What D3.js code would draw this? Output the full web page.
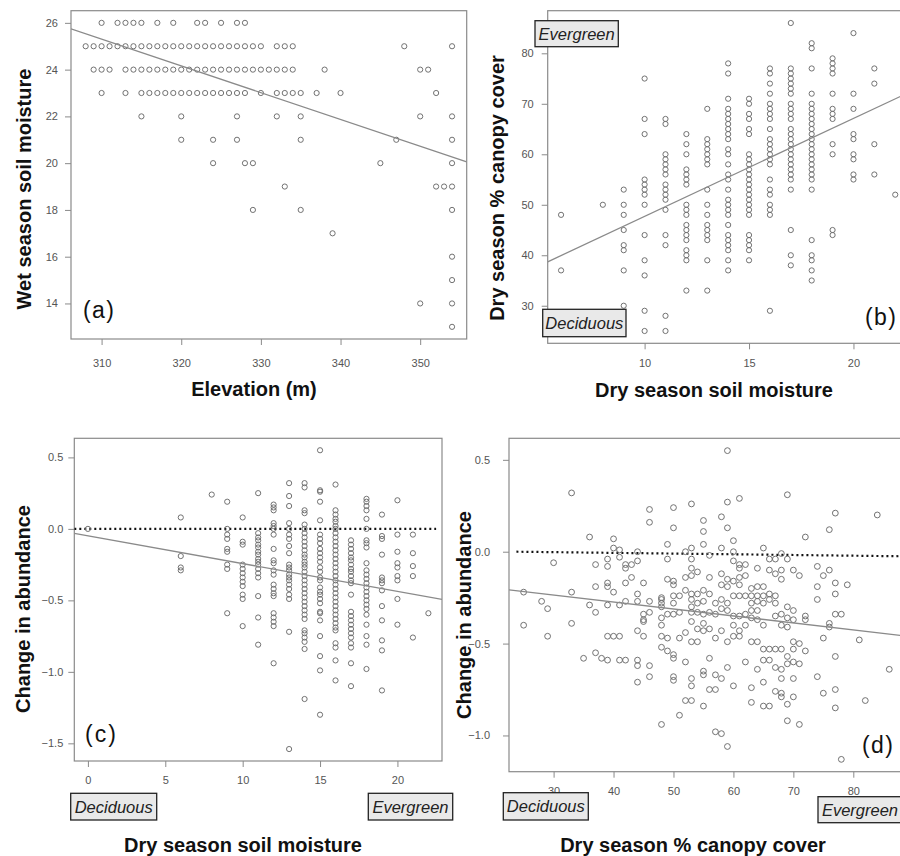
<!DOCTYPE html>
<html>
<head>
<meta charset="utf-8">
<script src="https://cdn.jsdelivr.net/npm/d3@7"></script>
<style>
  body { margin: 0; background: #fff; }
  svg text { font-family: "Liberation Sans", Arial, sans-serif; }
</style>
</head>
<body>
<svg id="fig" width="900" height="856"></svg>
<script>
// ---- data ----

// (a) wet season soil moisture rows, elevations in each row
var aMoisture = [26, 25, 24, 23, 22, 21, 20, 19, 18, 17, 16, 15, 14, 13];
var aElevation = [
  [310, 312, 313, 314, 315, 317, 319, 322, 323, 325, 327, 328],
  [308, 309, 310, 311, 312, 313, 314, 315, 316, 317, 318, 319, 320, 321, 322, 323, 324, 325, 326, 327, 328, 329, 330, 332, 333, 334, 348, 354],
  [309, 310, 311, 313, 314, 315, 316, 317, 318, 319, 320, 321, 322, 323, 324, 325, 326, 327, 328, 329, 330, 331, 332, 333, 334, 338, 350, 351],
  [310, 313, 315, 316, 317, 318, 319, 320, 321, 322, 323, 324, 325, 326, 327, 328, 330, 332, 333, 334, 335, 337, 340, 352],
  [315, 320, 327, 332, 335, 350, 354],
  [320, 324, 327, 335, 347, 354],
  [324, 328, 329, 345, 354],
  [333, 352, 353, 354],
  [329, 335, 354],
  [339],
  [354],
  [354],
  [350, 354],
  [354]
];

// (b) dry season soil moisture columns, canopy cover in each column
var bMoisture = [6, 8, 9, 10, 11, 12, 13, 14, 15, 16, 17, 18, 19, 20, 21, 22];
var bCanopy = [
  [48, 37],
  [50],
  [53, 50, 48, 45, 42, 41, 37, 30],
  [75, 67, 64, 55, 54, 53, 52, 50, 44, 39, 36, 29, 25],
  [67, 66, 60, 59, 58, 57, 56, 54, 53, 52, 51, 49, 44, 42, 28, 25],
  [64, 62, 60, 57, 56, 55, 54, 50, 49, 48, 46, 45, 44, 43, 41, 40, 39, 33],
  [69, 63, 62, 61, 60, 59, 58, 53, 50, 48, 46, 45, 44, 43, 39, 33],
  [78, 76, 71, 69, 68, 67, 66, 65, 64, 63, 61, 60, 58, 56, 55, 53, 51, 50, 49, 48, 46, 44, 43, 42, 41, 39, 37],
  [71, 70, 68, 67, 65, 64, 60, 59, 58, 57, 56, 55, 54, 53, 52, 51, 50, 49, 48, 44, 43, 42, 41, 39],
  [77, 76, 74, 72, 70, 69, 68, 67, 65, 63, 62, 61, 60, 59, 58, 55, 53, 52, 50, 49, 48, 29],
  [86, 77, 76, 75, 74, 73, 72, 70, 69, 68, 67, 65, 64, 63, 62, 61, 60, 59, 58, 57, 56, 55, 53, 45, 40, 38],
  [82, 81, 77, 72, 70, 69, 68, 67, 66, 65, 64, 63, 62, 61, 60, 59, 58, 57, 56, 55, 53, 43, 40, 39, 37, 35],
  [79, 78, 77, 76, 72, 69, 68, 67, 62, 60, 45, 44],
  [84, 72, 69, 64, 63, 60, 59, 56, 55],
  [77, 74, 62, 56],
  [52]
];

// (c) dry season soil moisture columns, change in abundance in each column
var cMoisture = [0, 6, 8, 9, 10, 11, 12, 13, 14, 15, 16, 17, 18, 19, 20, 21, 22];
var cChange = [
  [0.0],
  [0.08, -0.19, -0.27, -0.29],
  [0.24],
  [0.19, 0.0, -0.04, -0.07, -0.14, -0.16, -0.25, -0.28, -0.59],
  [0.08, -0.09, -0.11, -0.25, -0.28, -0.31, -0.34, -0.37, -0.40, -0.46, -0.49, -0.68],
  [0.25, -0.03, -0.06, -0.08, -0.11, -0.13, -0.16, -0.18, -0.21, -0.23, -0.25, -0.28, -0.31, -0.34, -0.47, -0.62, -0.81],
  [0.17, 0.15, 0.13, 0.04, 0.02, 0.0, -0.04, -0.14, -0.22, -0.24, -0.29, -0.32, -0.39, -0.42, -0.45, -0.47, -0.59, -0.62, -0.65, -0.68, -0.94],
  [0.32, 0.23, 0.16, 0.04, 0.0, -0.04, -0.07, -0.12, -0.17, -0.25, -0.27, -0.29, -0.32, -0.34, -0.36, -0.39, -0.42, -0.46, -0.49, -0.72, -1.54],
  [0.32, 0.29, 0.13, 0.11, 0.03, 0.0, -0.03, -0.06, -0.09, -0.12, -0.15, -0.18, -0.2, -0.23, -0.25, -0.27, -0.3, -0.33, -0.36, -0.39, -0.42, -0.45, -0.48, -0.51, -0.54, -0.57, -0.6, -0.63, -0.71, -0.73, -0.76, -0.79, -0.84, -1.19],
  [0.55, 0.27, 0.26, 0.19, 0.06, -0.04, -0.07, -0.1, -0.14, -0.17, -0.2, -0.23, -0.27, -0.3, -0.34, -0.36, -0.41, -0.44, -0.46, -0.49, -0.52, -0.58, -0.59, -0.64, -0.75, -0.89, -0.99, -1.3],
  [0.31, 0.13, 0.1, 0.07, 0.05, 0.02, 0.0, -0.03, -0.06, -0.09, -0.12, -0.15, -0.18, -0.21, -0.24, -0.27, -0.3, -0.33, -0.36, -0.39, -0.42, -0.45, -0.48, -0.51, -0.54, -0.57, -0.6, -0.63, -0.66, -0.69, -0.71, -0.8, -0.83, -0.92, -1.06],
  [-0.08, -0.11, -0.14, -0.17, -0.2, -0.22, -0.25, -0.28, -0.3, -0.33, -0.36, -0.38, -0.46, -0.58, -0.61, -0.64, -0.67, -0.7, -0.73, -0.76, -0.8, -0.83, -0.94, -1.1],
  [0.21, 0.19, 0.16, 0.13, 0.07, 0.0, -0.08, -0.1, -0.13, -0.24, -0.29, -0.32, -0.35, -0.38, -0.41, -0.44, -0.47, -0.5, -0.53, -0.56, -0.6, -0.67, -0.75, -0.81, -0.98],
  [0.1, -0.05, -0.07, -0.18, -0.34, -0.36, -0.38, -0.43, -0.54, -0.64, -0.78, -0.85, -1.13],
  [0.2, -0.04, -0.16, -0.24, -0.27, -0.33, -0.36, -0.49, -0.67],
  [-0.04, -0.17, -0.26, -0.33, -0.76],
  [-0.59]
];

// (d) [canopy cover, change in abundance]
var dPoints = [
  [33,0.32],[30,-0.06],[25,-0.22],[25,-0.40],[28,-0.27],[29,-0.31],[29,-0.46],[33,-0.22],[33,-0.39],[36,0.08],
  [36,-0.29],[37,-0.07],[37,-0.19],[37,-0.33],[35,-0.58],[37,-0.55],[38,-0.58],[39,-0.59],[40,0.07],[40,0.02],
  [41,0.01],[41,-0.03],[39,-0.04],[39,-0.08],[39,-0.17],[39,-0.19],[40,-0.22],[39,-0.29],[41,-0.29],[39,-0.46],
  [40,-0.46],[41,-0.46],[41,-0.59],[42,-0.59],[42,-0.07],[42,-0.09],[43,-0.07],[42,-0.17],[43,-0.14],[42,-0.27],
  [44,0.0],[44,-0.05],[44,-0.23],[44,-0.27],[44,-0.43],[44,-0.59],[44,-0.62],[44,-0.71],
  [59,0.55],[46,0.23],[46,0.16],[50,0.24],[53,0.26],[50,0.13],[55,0.17],[55,0.11],[58,0.19],[59,0.27],
  [61,0.29],[59,0.13],[60,0.06],[49,0.04],[55,0.04],[52,0.0],[53,0.02],[58,0.02],[60,0.0],[65,0.02],
  [49,-0.04],[53,-0.04],[53,-0.09],[54,-0.11],[53,-0.13],[56,-0.02],[60,-0.05],[61,-0.07],[62,-0.07],[61,-0.09],
  [64,-0.09],[49,-0.15],[50,-0.16],[50,-0.18],[52,-0.14],[45,-0.17],[56,-0.14],[58,-0.12],[59,-0.15],[60,-0.16],
  [61,-0.14],[62,-0.13],[58,-0.18],[59,-0.19],[61,-0.18],[63,-0.2],[64,-0.19],[65,-0.19],
  [52,-0.21],[53,-0.23],[54,-0.23],[55,-0.21],[56,-0.23],[46,-0.27],[48,-0.25],[48,-0.26],[48,-0.28],[48,-0.3],
  [50,-0.24],[51,-0.24],[50,-0.28],[53,-0.26],[54,-0.28],[55,-0.27],[53,-0.3],[57,-0.28],[58,-0.26],[59,-0.28],
  [58,-0.31],[59,-0.32],[60,-0.24],[61,-0.24],[62,-0.24],[63,-0.24],[64,-0.24],[65,-0.24],[63,-0.28],[64,-0.27],
  [65,-0.28],[63,-0.32],[64,-0.32],
  [45,-0.34],[46,-0.33],[45,-0.37],[45,-0.38],[48,-0.36],[49,-0.34],[50,-0.34],[51,-0.33],[53,-0.33],[54,-0.33],
  [55,-0.34],[56,-0.33],[57,-0.34],[60,-0.35],[61,-0.35],[62,-0.34],[63,-0.36],[64,-0.37],
  [45,-0.46],[48,-0.4],[48,-0.46],[49,-0.47],[51,-0.47],[52,-0.44],[53,-0.38],[54,-0.42],[55,-0.39],[55,-0.43],
  [54,-0.49],[53,-0.49],[56,-0.42],[57,-0.47],[58,-0.43],[59,-0.49],[60,-0.4],[61,-0.43],[62,-0.4],[63,-0.49],
  [64,-0.49],[60,-0.46],[61,-0.46],[65,-0.4],[65,-0.53],
  [48,-0.52],[49,-0.54],[50,-0.56],[50,-0.58],[46,-0.62],[52,-0.6],[56,-0.58],[59,-0.63],[62,-0.6],[64,-0.64],
  [65,-0.59],[46,-0.68],[50,-0.68],[50,-0.7],[53,-0.69],[53,-0.73],[55,-0.65],[55,-0.67],[57,-0.67],[58,-0.69],
  [60,-0.73],[63,-0.74],[65,-0.71],[56,-0.75],[57,-0.75],[52,-0.81],[53,-0.81],[55,-0.84],[63,-0.82],[65,-0.84],
  [51,-0.89],[48,-0.94],[57,-0.98],[58,-0.99],[59,-1.06],
  [69,0.31],[77,0.21],[84,0.2],[76,0.12],[72,0.08],[68,-0.01],[69,-0.04],[66,-0.04],[67,-0.04],[66,-0.1],
  [67,-0.12],[68,-0.1],[68,-0.15],[70,-0.1],[71,-0.13],[74,-0.08],[76,-0.1],[75,-0.13],[74,-0.19],[77,-0.17],
  [79,-0.18],[66,-0.23],[67,-0.24],[66,-0.26],[67,-0.28],[74,-0.26],[77,-0.23],[69,-0.3],[70,-0.32],[67,-0.35],
  [68,-0.34],[69,-0.36],[68,-0.4],[69,-0.41],[70,-0.37],[72,-0.35],[72,-0.37],[76,-0.39],[76,-0.41],[77,-0.34],
  [78,-0.34],[75,-0.47],[81,-0.48],[66,-0.53],[67,-0.53],[68,-0.53],[70,-0.49],[71,-0.5],[70,-0.53],[72,-0.54],
  [77,-0.57],[69,-0.57],[70,-0.6],[71,-0.61],[69,-0.61],[68,-0.64],[67,-0.63],[68,-0.69],[70,-0.69],[74,-0.68],
  [86,-0.64],[66,-0.59],[67,-0.76],[68,-0.77],[68,-0.79],[69,-0.83],[70,-0.79],[75,-0.77],[77,-0.75],[82,-0.81],
  [66,-0.84],[77,-0.85],[69,-0.92],[71,-0.94],[78,-1.13]
];

// fitted lines [intercept, slope]
var lmA = [60.8, -0.1145];
var lmB = [28.3, 1.94];
var lmC = [-0.049, -0.0194];
var lmD = [-0.1215, -0.0038];

// zero reference lines (dotted)
var zeroC = [[-0.88, 0], [22.5, 0]];
var zeroD = [[23.8, 0], [88.4, -0.025]];

// tick values
var aXTicks = [310, 320, 330, 340, 350];
var aYTicks = [14, 16, 18, 20, 22, 24, 26];
var bXTicks = [10, 15, 20];
var bYTicks = [30, 40, 50, 60, 70, 80];
var cXTicks = [0, 5, 10, 15, 20];
var cYTicks = [-1.5, -1.0, -0.5, 0.0, 0.5];
var dXTicks = [30, 40, 50, 60, 70, 80];
var dYTicks = [-1.0, -0.5, 0.0, 0.5];

// ---- build point lists ----
function fromRows(keys, lists, keyIsY) {
  var out = [];
  keys.forEach(function(k, i) {
    lists[i].forEach(function(v) { out.push(keyIsY ? [v, k] : [k, v]); });
  });
  return out;
}

var panels = [
  { id: 'a', pts: fromRows(aMoisture, aElevation, true), l: 71, r: 466.7, t: 10.7, b: 339,
    xt: aXTicks, yt: aYTicks, xf: d3.format('d'), yf: d3.format('d'), xpad: 14, ypad: 7, rad: 2.6,
    lm: lmA, xlab: 'Elevation (m)', xlabX: 254, xlabY: 396,
    ylab: 'Wet season soil moisture', ylabX: 24, ylabY: 189,
    tag: '(a)', tagX: 83, tagY: 318 },
  { id: 'b', pts: fromRows(bMoisture, bCanopy, false), l: 547.7, r: 908.6, t: 10.7, b: 343.3,
    xt: bXTicks, yt: bYTicks, xf: d3.format('d'), yf: d3.format('d'), xpad: 10, ypad: 8, rad: 2.6,
    lm: lmB, xlab: 'Dry season soil moisture', xlabX: 714, xlabY: 397,
    ylab: 'Dry season % canopy cover', ylabX: 497, ylabY: 188,
    tag: '(b)', tagX: 865, tagY: 325 },
  { id: 'c', pts: fromRows(cMoisture, cChange, false), l: 74.3, r: 442, t: 438.3, b: 761,
    xt: cXTicks, yt: cYTicks, xf: d3.format('d'), yf: d3.format('.1f'), xpad: 9, ypad: 5, rad: 2.6,
    lm: lmC, zero: zeroC, xlab: 'Dry season soil moisture', xlabX: 243, xlabY: 852,
    ylab: 'Change in abundance', ylabX: 23, ylabY: 609,
    tag: '(c)', tagX: 85, tagY: 742 },
  { id: 'd', pts: dPoints, l: 509, r: 903.9, t: 438.3, b: 771.7,
    xt: dXTicks, yt: dYTicks, xf: d3.format('d'), yf: d3.format('.1f'), xpad: 10, ypad: 13, rad: 2.9,
    lm: lmD, zero: zeroD, xlab: 'Dry season % canopy cover', xlabX: 693, xlabY: 852,
    ylab: 'Change in abundance', ylabX: 464, ylabY: 615,
    tag: '(d)', tagX: 862, tagY: 753 }
];

// Evergreen / Deciduous boxes
var boxes = [
  { text: 'Evergreen', x: 535, y: 20.7, w: 83.3, h: 26 },
  { text: 'Deciduous', x: 542.7, y: 309.3, w: 83.3, h: 27.4 },
  { text: 'Deciduous', x: 70.7, y: 793.3, w: 86, h: 26.7 },
  { text: 'Evergreen', x: 368.3, y: 793.3, w: 84.4, h: 26.7 },
  { text: 'Deciduous', x: 503.3, y: 792.7, w: 85, h: 27.3 },
  { text: 'Evergreen', x: 818, y: 796.7, w: 84, h: 26 }
];

var svg = d3.select('#fig');
var defs = svg.append('defs');

function padExtent(e) {
  var p = (e[1] - e[0]) * 0.04;
  return [e[0] - p, e[1] + p];
}

panels.forEach(function(p) {
  var g = svg.append('g');
  var x = d3.scaleLinear().domain(padExtent(d3.extent(p.pts, function(d) { return d[0]; }))).range([p.l, p.r]);
  var y = d3.scaleLinear().domain(padExtent(d3.extent(p.pts, function(d) { return d[1]; }))).range([p.b, p.t]);

  defs.append('clipPath').attr('id', 'clip' + p.id)
    .append('rect').attr('x', p.l).attr('y', p.t).attr('width', p.r - p.l).attr('height', p.b - p.t);

  // axes
  var xa = g.append('g').attr('transform', 'translate(0,' + p.b + ')')
    .call(d3.axisBottom(x).tickValues(p.xt).tickFormat(p.xf).tickSize(6).tickPadding(p.xpad));
  var ya = g.append('g').attr('transform', 'translate(' + p.l + ',0)')
    .call(d3.axisLeft(y).tickValues(p.yt).tickFormat(p.yf).tickSize(6).tickPadding(p.ypad));
  [xa, ya].forEach(function(a) {
    a.select('.domain').remove();
    a.attr('color', '#8a8a8a').attr('font-size', 11)
      .attr('font-family', '"Liberation Sans", Arial, sans-serif');
    a.selectAll('text').attr('fill', '#555');
  });

  // frame
  g.append('rect').attr('x', p.l).attr('y', p.t).attr('width', p.r - p.l).attr('height', p.b - p.t)
    .attr('fill', 'none').attr('stroke', '#8a8a8a').attr('stroke-width', 1.2);

  var plot = g.append('g').attr('clip-path', 'url(#clip' + p.id + ')');

  // zero line
  if (p.zero) {
    plot.append('line')
      .attr('x1', x(p.zero[0][0])).attr('y1', y(p.zero[0][1]))
      .attr('x2', x(p.zero[1][0])).attr('y2', y(p.zero[1][1]))
      .attr('stroke', '#111').attr('stroke-width', 2.2).attr('stroke-dasharray', '2,3');
  }

  // points
  plot.selectAll('circle').data(p.pts).enter().append('circle')
    .attr('cx', function(d) { return x(d[0]); })
    .attr('cy', function(d) { return y(d[1]); })
    .attr('r', p.rad)
    .attr('fill', 'none').attr('stroke', '#6a6a6a').attr('stroke-width', 0.95);

  // fitted line
  var xd = x.domain();
  plot.append('line')
    .attr('x1', x(xd[0])).attr('y1', y(p.lm[0] + p.lm[1] * xd[0]))
    .attr('x2', x(xd[1])).attr('y2', y(p.lm[0] + p.lm[1] * xd[1]))
    .attr('stroke', '#8a8a8a').attr('stroke-width', 1.3);

  // titles
  g.append('text').attr('x', p.xlabX).attr('y', p.xlabY).attr('text-anchor', 'middle')
    .attr('font-size', 20).attr('font-weight', 'bold').attr('fill', '#111').text(p.xlab);
  g.append('text').attr('transform', 'translate(' + p.ylabX + ',' + p.ylabY + ') rotate(-90)')
    .attr('text-anchor', 'middle').attr('dy', '0.36em')
    .attr('font-size', 20).attr('font-weight', 'bold').attr('fill', '#111').text(p.ylab);

  // panel tag
  g.append('text').attr('x', p.tagX).attr('y', p.tagY)
    .attr('font-size', 23).attr('fill', '#111')
    .attr('textLength', 31).attr('lengthAdjust', 'spacing').text(p.tag);
});

// boxes drawn on top
var bx = svg.append('g').selectAll('g').data(boxes).enter().append('g');
bx.append('rect')
  .attr('x', function(d) { return d.x; }).attr('y', function(d) { return d.y; })
  .attr('width', function(d) { return d.w; }).attr('height', function(d) { return d.h; })
  .attr('fill', '#e9e9e9').attr('stroke', '#222').attr('stroke-width', 1.3);
bx.append('text')
  .attr('x', function(d) { return d.x + d.w / 2; })
  .attr('y', function(d) { return d.y + d.h / 2; })
  .attr('dy', '0.36em').attr('text-anchor', 'middle')
  .attr('font-size', 16.5).attr('font-style', 'italic').attr('fill', '#222')
  .text(function(d) { return d.text; });
</script>
</body>
</html>
